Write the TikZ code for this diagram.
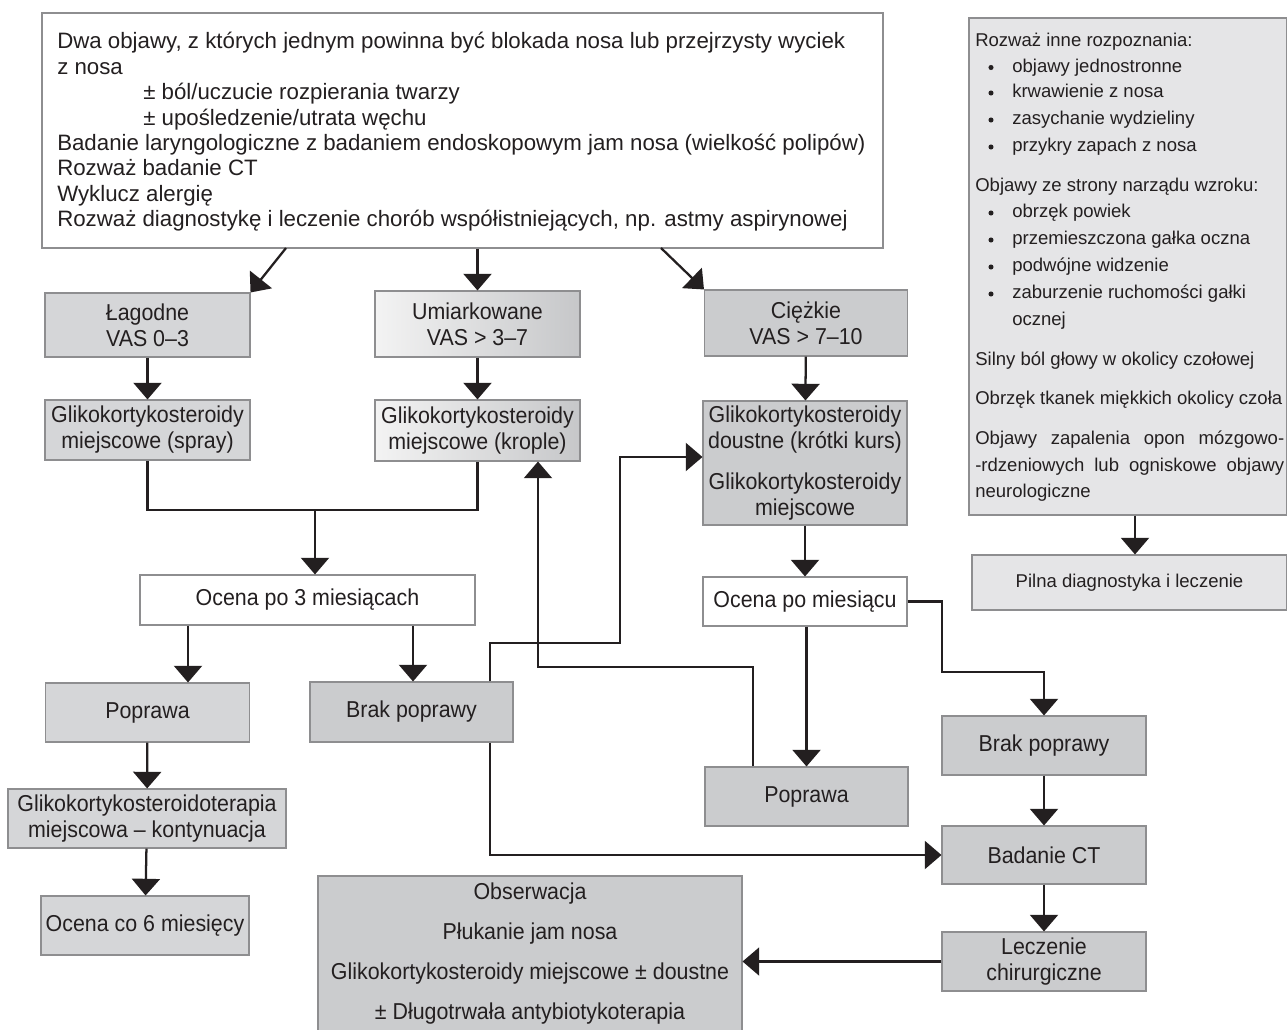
\documentclass[tikz,border=0pt]{standalone}
\usepackage{fontspec}
\setmainfont{Liberation Sans}
\newfontfamily\condf[FakeStretch=0.93]{Liberation Sans}
\usetikzlibrary{arrows.meta}
\definecolor{ink}{HTML}{231F20}
\definecolor{bord}{HTML}{8E8E90}
\definecolor{fl}{HTML}{D5D6D8}
\definecolor{fd}{HTML}{CBCCCE}
\definecolor{fr}{HTML}{E5E5E7}
\definecolor{gl}{HTML}{F3F3F3}
\definecolor{gr}{HTML}{C6C7C9}
\tikzset{
  wh/.style 2 args={minimum width=#1*0.75pt, minimum height=#2*0.75pt},
  fbox/.style={draw=bord, line width=0.8pt, inner sep=0pt, align=center, text=ink,
    font=\condf\fontsize{17.25}{19.5}\selectfont},
  lbox/.style={fbox, fill=fl},
  dbox/.style={fbox, fill=fd},
  wbox/.style={fbox, fill=white},
  rbx/.style={fbox, fill=fr, font=\fontsize{13.9}{16}\selectfont},
  gbox/.style={fbox, left color=gl, right color=gr},
  arr/.style={draw=ink, line width=1.7pt, -{Triangle[width=21pt,length=12.5pt]}},
  ln/.style={draw=ink, line width=1.7pt},
  tl/.style={anchor=base west, inner sep=0pt, text=ink, font=\fontsize{16.7}{19}\selectfont},
  rl/.style={anchor=base west, inner sep=0pt, text=ink, font=\fontsize{13.9}{16}\selectfont},
  bul/.style={fill=ink},
}
\begin{document}
\begin{tikzpicture}[x=0.75pt,y=-0.75pt]
\useasboundingbox (0,0) rectangle (1287,1030);

% top box
\node[wbox, wh={841}{235}] (top) at (462.5,130.5) {};
\node[tl] (t1) at (57,49) {Dwa objawy, z których jednym powinna być blokada nosa lub przejrzysty wyciek};
\node[tl] (t2) at (57,74.4) {z nosa};
\node[tl] (t3) at (143,99.8) {± ból/uczucie rozpierania twarzy};
\node[tl] (t4) at (143,125.2) {± upośledzenie/utrata węchu};
\node[tl] (t5) at (57,150.6) {Badanie laryngologiczne z badaniem endoskopowym jam nosa (wielkość polipów)};
\node[tl] (t6) at (57,176) {Rozważ badanie CT};
\node[tl] (t7) at (57,201.4) {Wyklucz alergię};
\node[tl] (t8) at (57,226.8) {Rozważ diagnostykę i leczenie chorób współistniejących, np. astmy aspirynowej};

% right box
\node[rbx, wh={318}{497}] (rb) at (1128,266.5) {};
\node[rl] (r1) at (975,47) {Rozważ inne rozpoznania:};
\node[rl] (r2) at (1012,72.5) {objawy jednostronne};
\node[rl] (r3) at (1012,98) {krwawienie z nosa};
\node[rl] (r4) at (1012,125) {zasychanie wydzieliny};
\node[rl] (r5) at (1012,152) {przykry zapach z nosa};
\node[rl] (r6) at (975,192) {Objawy ze strony narządu wzroku:};
\node[rl] (r7) at (1012,218) {obrzęk powiek};
\node[rl] (r8) at (1012,245) {przemieszczona gałka oczna};
\node[rl] (r9) at (1012,272) {podwójne widzenie};
\node[rl] (r10) at (1012,299) {zaburzenie ruchomości gałki};
\node[rl] (r11) at (1012,325.5) {ocznej};
\node[rl] (r12) at (975,365) {Silny ból głowy w okolicy czołowej};
\node[rl] (r13) at (975,404.5) {Obrzęk tkanek miękkich okolicy czoła};
\node[rl] (r14) at (975,444.5) {\makebox[231.75pt][s]{Objawy zapalenia opon mózgowo-}};
\node[rl] (r15) at (975,471.5) {\makebox[231.75pt][s]{-rdzeniowych lub ogniskowe objawy}};
\node[rl] (r16) at (975,497.5) {neurologiczne};
\foreach \yy in {72.5,98,125,152,218,245,272,299}
  \fill[bul] (991,\yy-5) circle (1.9pt);
\node[rbx, wh={315}{55}] (pilna) at (1129.5,582.5) {Pilna diagnostyka i leczenie};

% severity row
\node[lbox, wh={205}{64}] (lag) at (147.5,325) {Łagodne\\VAS 0–3};
\node[gbox, wh={205}{66}] (umi) at (477.5,324) {Umiarkowane\\VAS > 3–7};
\node[dbox, wh={203}{66}] (ciez) at (806,323) {Ciężkie\\VAS > 7–10};

\node[lbox, wh={205}{60}] (spray) at (147.5,430) {Glikokortykosteroidy\\miejscowe (spray)};
\node[gbox, wh={205}{61}] (kro) at (477.5,430.5) {Glikokortykosteroidy\\miejscowe (krople)};
\node[dbox, wh={204}{124}] (dous) at (805,463) {Glikokortykosteroidy\\doustne (krótki kurs)\\[11pt]Glikokortykosteroidy\\miejscowe};

\node[wbox, wh={335}{50}] (oc3) at (307.5,600) {Ocena po 3 miesiącach};
\node[wbox, wh={204}{49}] (ocm) at (805,601.5) {Ocena po miesiącu};

\node[lbox, wh={204}{59}] (pop1) at (147.5,712.5) {Poprawa};
\node[dbox, wh={203}{60}] (brak1) at (411.5,712) {Brak poprawy};
\node[lbox, wh={278}{59}] (glt) at (147,818.5) {Glikokortykosteroidoterapia\\miejscowa – kontynuacja};
\node[lbox, wh={208}{59}] (oc6) at (145,925.5) {Ocena co 6 miesięcy};
\node[dbox, wh={203}{59}] (pop2) at (806.5,796.5) {Poprawa};
\node[dbox, wh={204}{59}] (brak2) at (1044,745.5) {Brak poprawy};
\node[dbox, wh={204}{58}] (ct) at (1044,855) {Badanie CT};
\node[dbox, wh={204}{59}] (lec) at (1044,961.5) {Leczenie\\chirurgiczne};
\node[dbox, wh={424}{155}, font=\condf\fontsize{17.25}{30}\selectfont] (obs) at (530,953.5)
  {Obserwacja\\Płukanie jam nosa\\Glikokortykosteroidy miejscowe ± doustne\\± Długotrwała antybiotykoterapia};

% coordinates
\coordinate (s1) at (286,248);
\coordinate (s2) at (661,248);
\coordinate (jn) at (315,510);
\coordinate (x1) at (188,0);
\coordinate (x2) at (413,0);
\coordinate (a1) at (490,643);
\coordinate (a2) at (620,457);
\coordinate (b1) at (753,667);
\coordinate (b2) at (538,667);
\coordinate (c1) at (490,854);
\coordinate (d1) at (942,672);
\coordinate (e1) at (1135,0);

% connectors
\draw[arr] (s1) -- (lag.north east);
\draw[arr] (top.south -| umi.north) -- (umi.north);
\draw[arr] (s2) -- (ciez.north west);
\draw[arr] (lag) -- (spray);
\draw[arr] (umi) -- (kro);
\draw[arr] (ciez) -- (dous);
\draw[ln] (spray.south) -- (spray.south |- jn) -- (kro.south |- jn) -- (kro.south);
\draw[arr] (jn) -- (jn |- oc3.north);
\draw[arr] (oc3.south -| x1) -- (pop1.north -| x1);
\draw[arr] (oc3.south -| x2) -- (brak1.north -| x2);
\draw[arr] (pop1) -- (glt);
\draw[arr] (glt) -- (oc6);
\draw[arr] (brak1.north -| a1) -- (a1) -- (a1 -| a2) -- (a2) -- (a2 -| dous.west);
\draw[arr] (pop2.north -| b1) -- (b1) -- (b2) -- (b2 |- kro.south);
\draw[arr] (brak1.south -| c1) -- (c1 |- ct.west) -- (ct.west);
\draw[arr] (dous) -- (ocm);
\draw[arr] (ocm.south -| pop2.north) -- (pop2.north);
\draw[arr] (ocm.east) -- (ocm.east -| d1) -- (d1) -- (d1 -| brak2.north) -- (brak2.north);
\draw[arr] (brak2) -- (ct);
\draw[arr] (ct) -- (lec);
\draw[arr] (lec.west) -- (lec.west -| obs.east);
\draw[arr] (rb.south -| e1) -- (pilna.north -| e1);
\end{tikzpicture}
\end{document}
